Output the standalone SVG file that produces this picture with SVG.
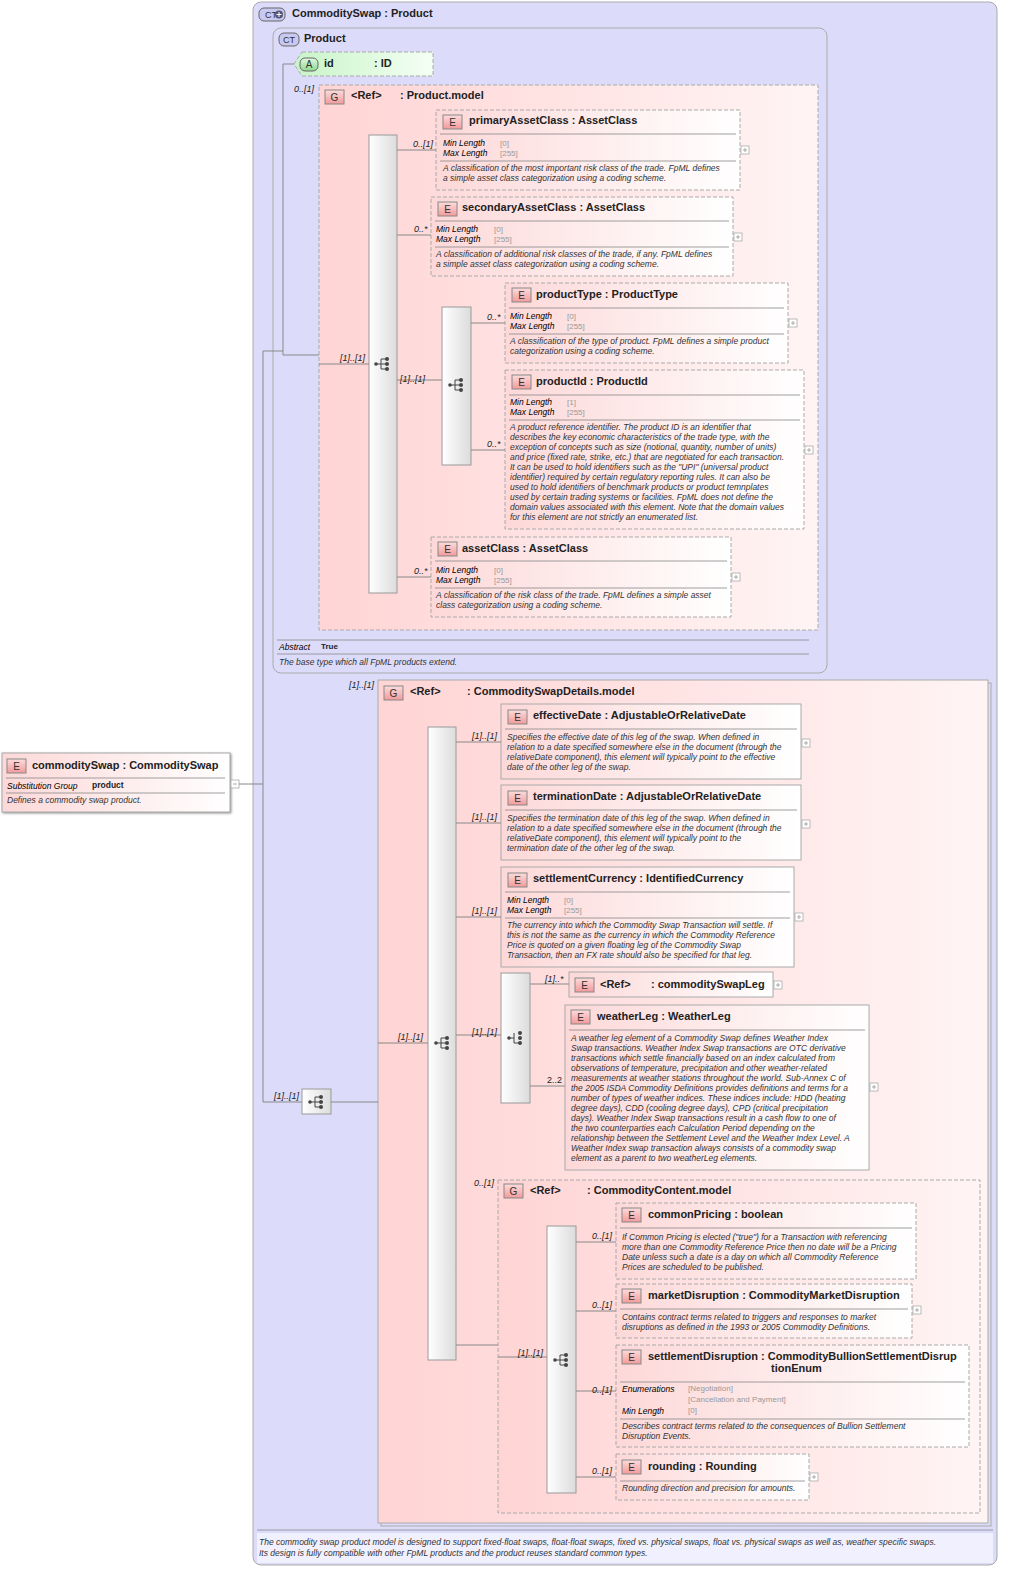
<svg xmlns="http://www.w3.org/2000/svg" width="1017" height="1591" viewBox="0 0 1017 1591">
<style>
text{font-family:"Liberation Sans",Arial,sans-serif;fill:#222}
.t{font-size:11px;font-weight:bold}
.d{font-size:8.5px;font-style:italic;fill:#333}
.k{font-size:8.5px;font-style:italic;fill:#000}
.v{font-size:8px;fill:#999}
.m{font-size:9px;font-style:italic;fill:#222}
.bt{font-size:10px;fill:#333;text-anchor:middle}
.el{fill:url(#ge);stroke:#aaa;stroke-width:1}
.eld{fill:url(#ge);stroke:#aaa;stroke-width:1;stroke-dasharray:4,2}
.grp{fill:url(#gg);stroke:#aaa;stroke-width:1;stroke-dasharray:4,2}
.sep{stroke:#888;stroke-width:0.8}
.c{stroke:#888;stroke-width:1;fill:none}
.bar{fill:url(#gb);stroke:#999}
.pl{fill:#fff;stroke:#aaa;stroke-width:0.8}
</style>
<defs>
<linearGradient id="ge" x1="0" y1="0" x2="1" y2="0"><stop offset="0" stop-color="#fdd8d8"/><stop offset="1" stop-color="#ffffff"/></linearGradient>
<linearGradient id="gg" x1="0" y1="0" x2="1" y2="0"><stop offset="0" stop-color="#ffd4d4"/><stop offset="1" stop-color="#fff4f4"/></linearGradient>
<linearGradient id="gb" x1="0" y1="0" x2="1" y2="0"><stop offset="0" stop-color="#ffffff"/><stop offset="1" stop-color="#dcdcdc"/></linearGradient>
<linearGradient id="gbe" x1="0" y1="0" x2="0" y2="1"><stop offset="0" stop-color="#fcdcdc"/><stop offset="1" stop-color="#f29a9a"/></linearGradient>
<linearGradient id="ga" x1="0" y1="0" x2="1" y2="0"><stop offset="0" stop-color="#c8f4c8"/><stop offset="1" stop-color="#f4fff4"/></linearGradient>
<linearGradient id="gab" x1="0" y1="0" x2="0" y2="1"><stop offset="0" stop-color="#dff8df"/><stop offset="1" stop-color="#8fd88f"/></linearGradient>
<g id="E"><rect x="0" y="0" width="19" height="14" fill="url(#gbe)" stroke="#888"/><text x="9.5" y="11" class="bt">E</text></g>
<g id="G"><rect x="0" y="0" width="19" height="14" fill="url(#gbe)" stroke="#888"/><text x="9.5" y="11" class="bt">G</text></g>
<g id="seq"><circle cx="-7" cy="0" r="1.8" fill="#444"/><path d="M-7 0H-2M-2 -5V5M-2 -5H3M-2 0H3M-2 5H3" stroke="#444" fill="none"/><circle cx="4" cy="-5" r="2" fill="#444"/><circle cx="4" cy="0" r="2" fill="#444"/><circle cx="4" cy="5" r="2" fill="#444"/></g>
<g id="cho"><circle cx="-7" cy="0" r="1.8" fill="#444"/><path d="M-7 0H-2M-2 -5V5M-2 5H3" stroke="#444" fill="none"/><circle cx="4" cy="-5" r="2" fill="#444"/><circle cx="4" cy="0" r="2" fill="#444"/><circle cx="4" cy="5" r="2" fill="#444"/></g>
<g id="plus"><rect x="0" y="0" width="8" height="8" class="pl"/><path d="M2 4H6M4 2V6" stroke="#aaa"/></g>
</defs>
<rect width="1017" height="1591" fill="#fff"/>

<g id="ct-commodityswap">
<rect x="253" y="2" width="744" height="1563" rx="8" fill="#dcdcfa" stroke="#aaa"/>
<rect x="259" y="8" width="26" height="13" rx="5" fill="#c8c8f0" stroke="#666"/>
<text x="265" y="18" style="font-size:9px;fill:#333">CT</text><circle cx="279" cy="14.5" r="4" fill="#557"/><path d="M276.5 14.5H281.5M279 12V17" stroke="#fff"/>
<text x="292" y="17" class="t">CommoditySwap : Product</text>
<line x1="257" y1="1530" x2="993" y2="1530" class="sep"/>
<rect x="257" y="1533" width="736" height="30" fill="#f0f0ff"/>
<text x="259" y="1545" class="d">The commodity swap product model is designed to support fixed-float swaps, float-float swaps, fixed vs. physical swaps, float vs. physical swaps as well as, weather specific swaps.</text>
<text x="259" y="1556" class="d">Its design is fully compatible with other FpML products and the product reuses standard common types.</text>
</g>

<g id="ct-product">
<rect x="273" y="28" width="554" height="645" rx="8" fill="#dcdcfa" stroke="#aaa"/>
<rect x="279" y="33" width="20" height="13" rx="5" fill="#c8c8f0" stroke="#666"/>
<text x="289" y="43" class="bt" style="font-size:9px">CT</text>
<text x="304" y="42" class="t">Product</text>
<line x1="277" y1="640" x2="809" y2="640" class="sep"/>
<line x1="277" y1="654" x2="809" y2="654" class="sep"/>
<text x="279" y="650" class="k">Abstract</text><text x="321" y="649" style="font-size:8px;font-weight:bold">True</text>
<text x="279" y="665" class="d">The base type which all FpML products extend.</text>
</g>

<g id="commoditySwap">
<rect x="2" y="753" width="228" height="59" class="el" style="filter:drop-shadow(1px 1px 1px #999)"/>
<use href="#E" x="7" y="759"/>
<text x="32" y="769" class="t">commoditySwap : CommoditySwap</text>
<line x1="6" y1="778" x2="225" y2="778" class="sep"/>
<line x1="6" y1="793" x2="225" y2="793" class="sep"/>
<text x="7" y="789" class="k">Substitution Group</text><text x="92" y="788" style="font-size:8.5px;font-weight:bold">product</text>
<text x="7" y="803" class="d">Defines a commodity swap product.</text>
<rect x="231" y="780" width="8" height="8" class="pl"/><path d="M233 784H237" stroke="#aaa"/>
</g>

<g id="id">
<path d="M302 52H433V76H302L294 64Z" fill="url(#ga)" stroke="#aaa" stroke-dasharray="4,2"/>
<rect x="300" y="58" width="18" height="13" rx="5" fill="url(#gab)" stroke="#666"/>
<text x="309" y="68" class="bt">A</text>
<text x="324" y="67" class="t">id</text><text x="374" y="67" class="t">: ID</text>
</g>

<g id="product-model">
<rect x="319" y="85" width="499" height="545" class="grp"/>
<use href="#G" x="325" y="90"/>
<text x="351" y="99" class="t">&lt;Ref&gt;</text><text x="400" y="99" class="t">: Product.model</text>
<rect x="369" y="135" width="28" height="458" class="bar"/>
<use href="#seq" x="383" y="364"/>
<rect x="442" y="307" width="29" height="158" class="bar"/>
<use href="#seq" x="457" y="385"/>
</g>

<g id="primaryAssetClass">
<rect x="436" y="110" width="304" height="80" class="eld"/>
<use href="#E" x="443" y="115"/>
<text x="469" y="124" class="t">primaryAssetClass : AssetClass</text>
<line x1="440" y1="134" x2="736" y2="134" class="sep"/>
<text x="443" y="146" class="k">Min Length</text><text x="500" y="146" class="v">[0]</text>
<text x="443" y="156" class="k">Max Length</text><text x="500" y="156" class="v">[255]</text>
<line x1="440" y1="161" x2="736" y2="161" class="sep"/>
<text x="443" y="171" class="d">A classification of the most important risk class of the trade. FpML defines</text>
<text x="443" y="181" class="d">a simple asset class categorization using a coding scheme.</text>
<use href="#plus" x="741" y="146"/>
</g>

<g id="secondaryAssetClass">
<rect x="431" y="197" width="302" height="79" class="eld"/>
<use href="#E" x="438" y="202"/>
<text x="462" y="211" class="t">secondaryAssetClass : AssetClass</text>
<line x1="435" y1="221" x2="729" y2="221" class="sep"/>
<text x="436" y="232" class="k">Min Length</text><text x="494" y="232" class="v">[0]</text>
<text x="436" y="242" class="k">Max Length</text><text x="494" y="242" class="v">[255]</text>
<line x1="435" y1="247" x2="729" y2="247" class="sep"/>
<text x="436" y="257" class="d">A classification of additional risk classes of the trade, if any. FpML defines</text>
<text x="436" y="267" class="d">a simple asset class categorization using a coding scheme.</text>
<use href="#plus" x="734" y="233"/>
</g>

<g id="productType">
<rect x="505" y="283" width="283" height="80" class="eld"/>
<use href="#E" x="512" y="288"/>
<text x="536" y="298" class="t">productType : ProductType</text>
<line x1="509" y1="308" x2="784" y2="308" class="sep"/>
<text x="510" y="319" class="k">Min Length</text><text x="567" y="319" class="v">[0]</text>
<text x="510" y="329" class="k">Max Length</text><text x="567" y="329" class="v">[255]</text>
<line x1="509" y1="334" x2="784" y2="334" class="sep"/>
<text x="510" y="344" class="d">A classification of the type of product. FpML defines a simple product</text>
<text x="510" y="354" class="d">categorization using a coding scheme.</text>
<use href="#plus" x="789" y="319"/>
</g>

<g id="productId">
<rect x="505" y="370" width="299" height="159" class="eld"/>
<use href="#E" x="512" y="375"/>
<text x="536" y="385" class="t">productId : ProductId</text>
<line x1="509" y1="395" x2="800" y2="395" class="sep"/>
<text x="510" y="405" class="k">Min Length</text><text x="567" y="405" class="v">[1]</text>
<text x="510" y="415" class="k">Max Length</text><text x="567" y="415" class="v">[255]</text>
<line x1="509" y1="420" x2="800" y2="420" class="sep"/>
<text x="510" y="430" class="d">A product reference identifier. The product ID is an identifier that</text>
<text x="510" y="440" class="d">describes the key economic characteristics of the trade type, with the</text>
<text x="510" y="450" class="d">exception of concepts such as size (notional, quantity, number of units)</text>
<text x="510" y="460" class="d">and price (fixed rate, strike, etc.) that are negotiated for each transaction.</text>
<text x="510" y="470" class="d">It can be used to hold identifiers such as the "UPI" (universal product</text>
<text x="510" y="480" class="d">identifier) required by certain regulatory reporting rules. It can also be</text>
<text x="510" y="490" class="d">used to hold identifiers of benchmark products or product temnplates</text>
<text x="510" y="500" class="d">used by certain trading systems or facilities. FpML does not define the</text>
<text x="510" y="510" class="d">domain values associated with this element. Note that the domain values</text>
<text x="510" y="520" class="d">for this element are not strictly an enumerated list.</text>
<use href="#plus" x="805" y="446"/>
</g>

<g id="assetClass">
<rect x="431" y="537" width="300" height="80" class="eld"/>
<use href="#E" x="438" y="542"/>
<text x="462" y="552" class="t">assetClass : AssetClass</text>
<line x1="435" y1="561" x2="727" y2="561" class="sep"/>
<text x="436" y="573" class="k">Min Length</text><text x="494" y="573" class="v">[0]</text>
<text x="436" y="583" class="k">Max Length</text><text x="494" y="583" class="v">[255]</text>
<line x1="435" y1="588" x2="727" y2="588" class="sep"/>
<text x="436" y="598" class="d">A classification of the risk class of the trade. FpML defines a simple asset</text>
<text x="436" y="608" class="d">class categorization using a coding scheme.</text>
<use href="#plus" x="732" y="573"/>
</g>

<g id="seq-bottom">
<rect x="302" y="1089" width="29" height="25" class="bar"/>
<use href="#seq" x="317" y="1102"/>
</g>

<g id="commodityswapdetails-model">
<rect x="381" y="683" width="610" height="843" fill="none" stroke="#aaa"/>
<rect x="378" y="680" width="610" height="843" fill="url(#gg)" stroke="#aaa"/>
<use href="#G" x="384" y="686"/>
<text x="410" y="695" class="t">&lt;Ref&gt;</text><text x="467" y="695" class="t">: CommoditySwapDetails.model</text>
<rect x="428" y="727" width="28" height="633" class="bar"/>
<use href="#seq" x="443" y="1043"/>
<rect x="501" y="973" width="29" height="130" class="bar"/>
<use href="#cho" x="516" y="1038"/>
</g>

<g id="effectiveDate">
<rect x="501" y="704" width="300" height="75" class="el"/>
<use href="#E" x="508" y="710"/>
<text x="533" y="719" class="t">effectiveDate : AdjustableOrRelativeDate</text>
<line x1="505" y1="729" x2="797" y2="729" class="sep"/>
<text x="507" y="740" class="d">Specifies the effective date of this leg of the swap. When defined in</text>
<text x="507" y="750" class="d">relation to a date specified somewhere else in the document (through the</text>
<text x="507" y="760" class="d">relativeDate component), this element will typically point to the effective</text>
<text x="507" y="770" class="d">date of the other leg of the swap.</text>
<use href="#plus" x="802" y="739"/>
</g>

<g id="terminationDate">
<rect x="501" y="785" width="300" height="75" class="el"/>
<use href="#E" x="508" y="791"/>
<text x="533" y="800" class="t">terminationDate : AdjustableOrRelativeDate</text>
<line x1="505" y1="810" x2="797" y2="810" class="sep"/>
<text x="507" y="821" class="d">Specifies the termination date of this leg of the swap. When defined in</text>
<text x="507" y="831" class="d">relation to a date specified somewhere else in the document (through the</text>
<text x="507" y="841" class="d">relativeDate component), this element will typically point to the</text>
<text x="507" y="851" class="d">termination date of the other leg of the swap.</text>
<use href="#plus" x="802" y="820"/>
</g>

<g id="settlementCurrency">
<rect x="501" y="867" width="293" height="100" class="el"/>
<use href="#E" x="508" y="873"/>
<text x="533" y="882" class="t">settlementCurrency : IdentifiedCurrency</text>
<line x1="505" y1="892" x2="790" y2="892" class="sep"/>
<text x="507" y="903" class="k">Min Length</text><text x="564" y="903" class="v">[0]</text>
<text x="507" y="913" class="k">Max Length</text><text x="564" y="913" class="v">[255]</text>
<line x1="505" y1="918" x2="790" y2="918" class="sep"/>
<text x="507" y="928" class="d">The currency into which the Commodity Swap Transaction will settle. If</text>
<text x="507" y="938" class="d">this is not the same as the currency in which the Commodity Reference</text>
<text x="507" y="948" class="d">Price is quoted on a given floating leg of the Commodity Swap</text>
<text x="507" y="958" class="d">Transaction, then an FX rate should also be specified for that leg.</text>
<use href="#plus" x="795" y="913"/>
</g>

<g id="commoditySwapLeg">
<rect x="569" y="972" width="204" height="25" class="el"/>
<use href="#E" x="575" y="978"/>
<text x="600" y="988" class="t">&lt;Ref&gt;</text><text x="651" y="988" class="t">: commoditySwapLeg</text>
<use href="#plus" x="774" y="981"/>
</g>

<g id="weatherLeg">
<rect x="565" y="1005" width="304" height="165" class="el"/>
<use href="#E" x="571" y="1010"/>
<text x="597" y="1020" class="t">weatherLeg : WeatherLeg</text>
<line x1="569" y1="1030" x2="865" y2="1030" class="sep"/>
<text x="571" y="1041" class="d">A weather leg element of a Commodity Swap defines Weather Index</text>
<text x="571" y="1051" class="d">Swap transactions. Weather Index Swap transactions are OTC derivative</text>
<text x="571" y="1061" class="d">transactions which settle financially based on an index calculated from</text>
<text x="571" y="1071" class="d">observations of temperature, precipitation and other weather-related</text>
<text x="571" y="1081" class="d">measurements at weather stations throughout the world. Sub-Annex C of</text>
<text x="571" y="1091" class="d">the 2005 ISDA Commodity Definitions provides definitions and terms for a</text>
<text x="571" y="1101" class="d">number of types of weather indices. These indices include: HDD (heating</text>
<text x="571" y="1111" class="d">degree days), CDD (cooling degree days), CPD (critical precipitation</text>
<text x="571" y="1121" class="d">days). Weather Index Swap transactions result in a cash flow to one of</text>
<text x="571" y="1131" class="d">the two counterparties each Calculation Period depending on the</text>
<text x="571" y="1141" class="d">relationship between the Settlement Level and the Weather Index Level. A</text>
<text x="571" y="1151" class="d">Weather Index swap transaction always consists of a commodity swap</text>
<text x="571" y="1161" class="d">element as a parent to two weatherLeg elements.</text>
<use href="#plus" x="870" y="1083"/>
</g>

<g id="commoditycontent-model">
<rect x="498" y="1180" width="482" height="333" class="grp"/>
<use href="#G" x="504" y="1184"/>
<text x="530" y="1194" class="t">&lt;Ref&gt;</text><text x="587" y="1194" class="t">: CommodityContent.model</text>
<rect x="547" y="1226" width="29" height="267" class="bar"/>
<use href="#seq" x="562" y="1360"/>
</g>

<g id="commonPricing">
<rect x="616" y="1203" width="300" height="76" class="eld"/>
<use href="#E" x="622" y="1208"/>
<text x="648" y="1218" class="t">commonPricing : boolean</text>
<line x1="620" y1="1228" x2="912" y2="1228" class="sep"/>
<text x="622" y="1240" class="d">If Common Pricing is elected ("true") for a Transaction with referencing</text>
<text x="622" y="1250" class="d">more than one Commodity Reference Price then no date will be a Pricing</text>
<text x="622" y="1260" class="d">Date unless such a date is a day on which all Commodity Reference</text>
<text x="622" y="1270" class="d">Prices are scheduled to be published.</text>
</g>

<g id="marketDisruption">
<rect x="616" y="1284" width="296" height="54" class="eld"/>
<use href="#E" x="622" y="1289"/>
<text x="648" y="1299" class="t">marketDisruption : CommodityMarketDisruption</text>
<line x1="620" y1="1309" x2="908" y2="1309" class="sep"/>
<text x="622" y="1320" class="d">Contains contract terms related to triggers and responses to market</text>
<text x="622" y="1330" class="d">disruptions as defined in the 1993 or 2005 Commodity Definitions.</text>
<use href="#plus" x="913" y="1306"/>
</g>

<g id="settlementDisruption">
<rect x="616" y="1345" width="353" height="102" class="eld"/>
<use href="#E" x="622" y="1350"/>
<text x="648" y="1360" class="t">settlementDisruption : CommodityBullionSettlementDisrup</text>
<text x="771" y="1372" class="t">tionEnum</text>
<line x1="620" y1="1382" x2="965" y2="1382" class="sep"/>
<text x="622" y="1392" class="k">Enumerations</text><text x="688" y="1391" class="v">[Negotiation]</text>
<text x="688" y="1402" class="v">[Cancellation and Payment]</text>
<text x="622" y="1414" class="k">Min Length</text><text x="688" y="1413" class="v">[0]</text>
<line x1="620" y1="1419" x2="965" y2="1419" class="sep"/>
<text x="622" y="1429" class="d">Describes contract terms related to the consequences of Bullion Settlement</text>
<text x="622" y="1439" class="d">Disruption Events.</text>
</g>

<g id="rounding">
<rect x="616" y="1454" width="193" height="46" class="eld"/>
<use href="#E" x="622" y="1460"/>
<text x="648" y="1470" class="t">rounding : Rounding</text>
<line x1="620" y1="1481" x2="805" y2="1481" class="sep"/>
<text x="622" y="1491" class="d">Rounding direction and precision for amounts.</text>
<use href="#plus" x="810" y="1473"/>
</g>

<g id="connectors">
<path class="c" d="M239 784H263M263 351V1102M263 351H283M283 64V355M283 64H294M283 355H319M319 364H369M263 1102H302M331 1102H378M397 150H436M397 235H431M397 380H442M471 323H505M471 450H505M397 577H431"/>
<path class="c" d="M378 1043H428M456 742H501M456 823H501M456 917H501M456 1035H501M530 984H569M530 1086H565M456 1345H498M498 1357H547M576 1242H616M576 1311H616M576 1391H616M576 1477H616"/>
<text x="294" y="92" class="m">0..[1]</text>
<text x="340" y="361" class="m">[1]..[1]</text>
<text x="413" y="147" class="m">0..[1]</text>
<text x="414" y="232" class="m">0..*</text>
<text x="400" y="382" class="m">[1]..[1]</text>
<text x="487" y="320" class="m">0..*</text>
<text x="487" y="447" class="m">0..*</text>
<text x="414" y="574" class="m">0..*</text>
<text x="274" y="1099" class="m">[1]..[1]</text>
<text x="349" y="688" class="m">[1]..[1]</text>
<text x="398" y="1040" class="m">[1]..[1]</text>
<text x="472" y="739" class="m">[1]..[1]</text>
<text x="472" y="820" class="m">[1]..[1]</text>
<text x="472" y="914" class="m">[1]..[1]</text>
<text x="472" y="1035" class="m">[1]..[1]</text>
<text x="545" y="982" class="m">[1]..*</text>
<text x="547" y="1083" style="font-size:9px;fill:#222">2..2</text>
<text x="474" y="1186" class="m">0..[1]</text>
<text x="518" y="1356" class="m">[1]..[1]</text>
<text x="592" y="1239" class="m">0..[1]</text>
<text x="592" y="1308" class="m">0..[1]</text>
<text x="592" y="1393" class="m">0..[1]</text>
<text x="592" y="1474" class="m">0..[1]</text>
</g>
</svg>
